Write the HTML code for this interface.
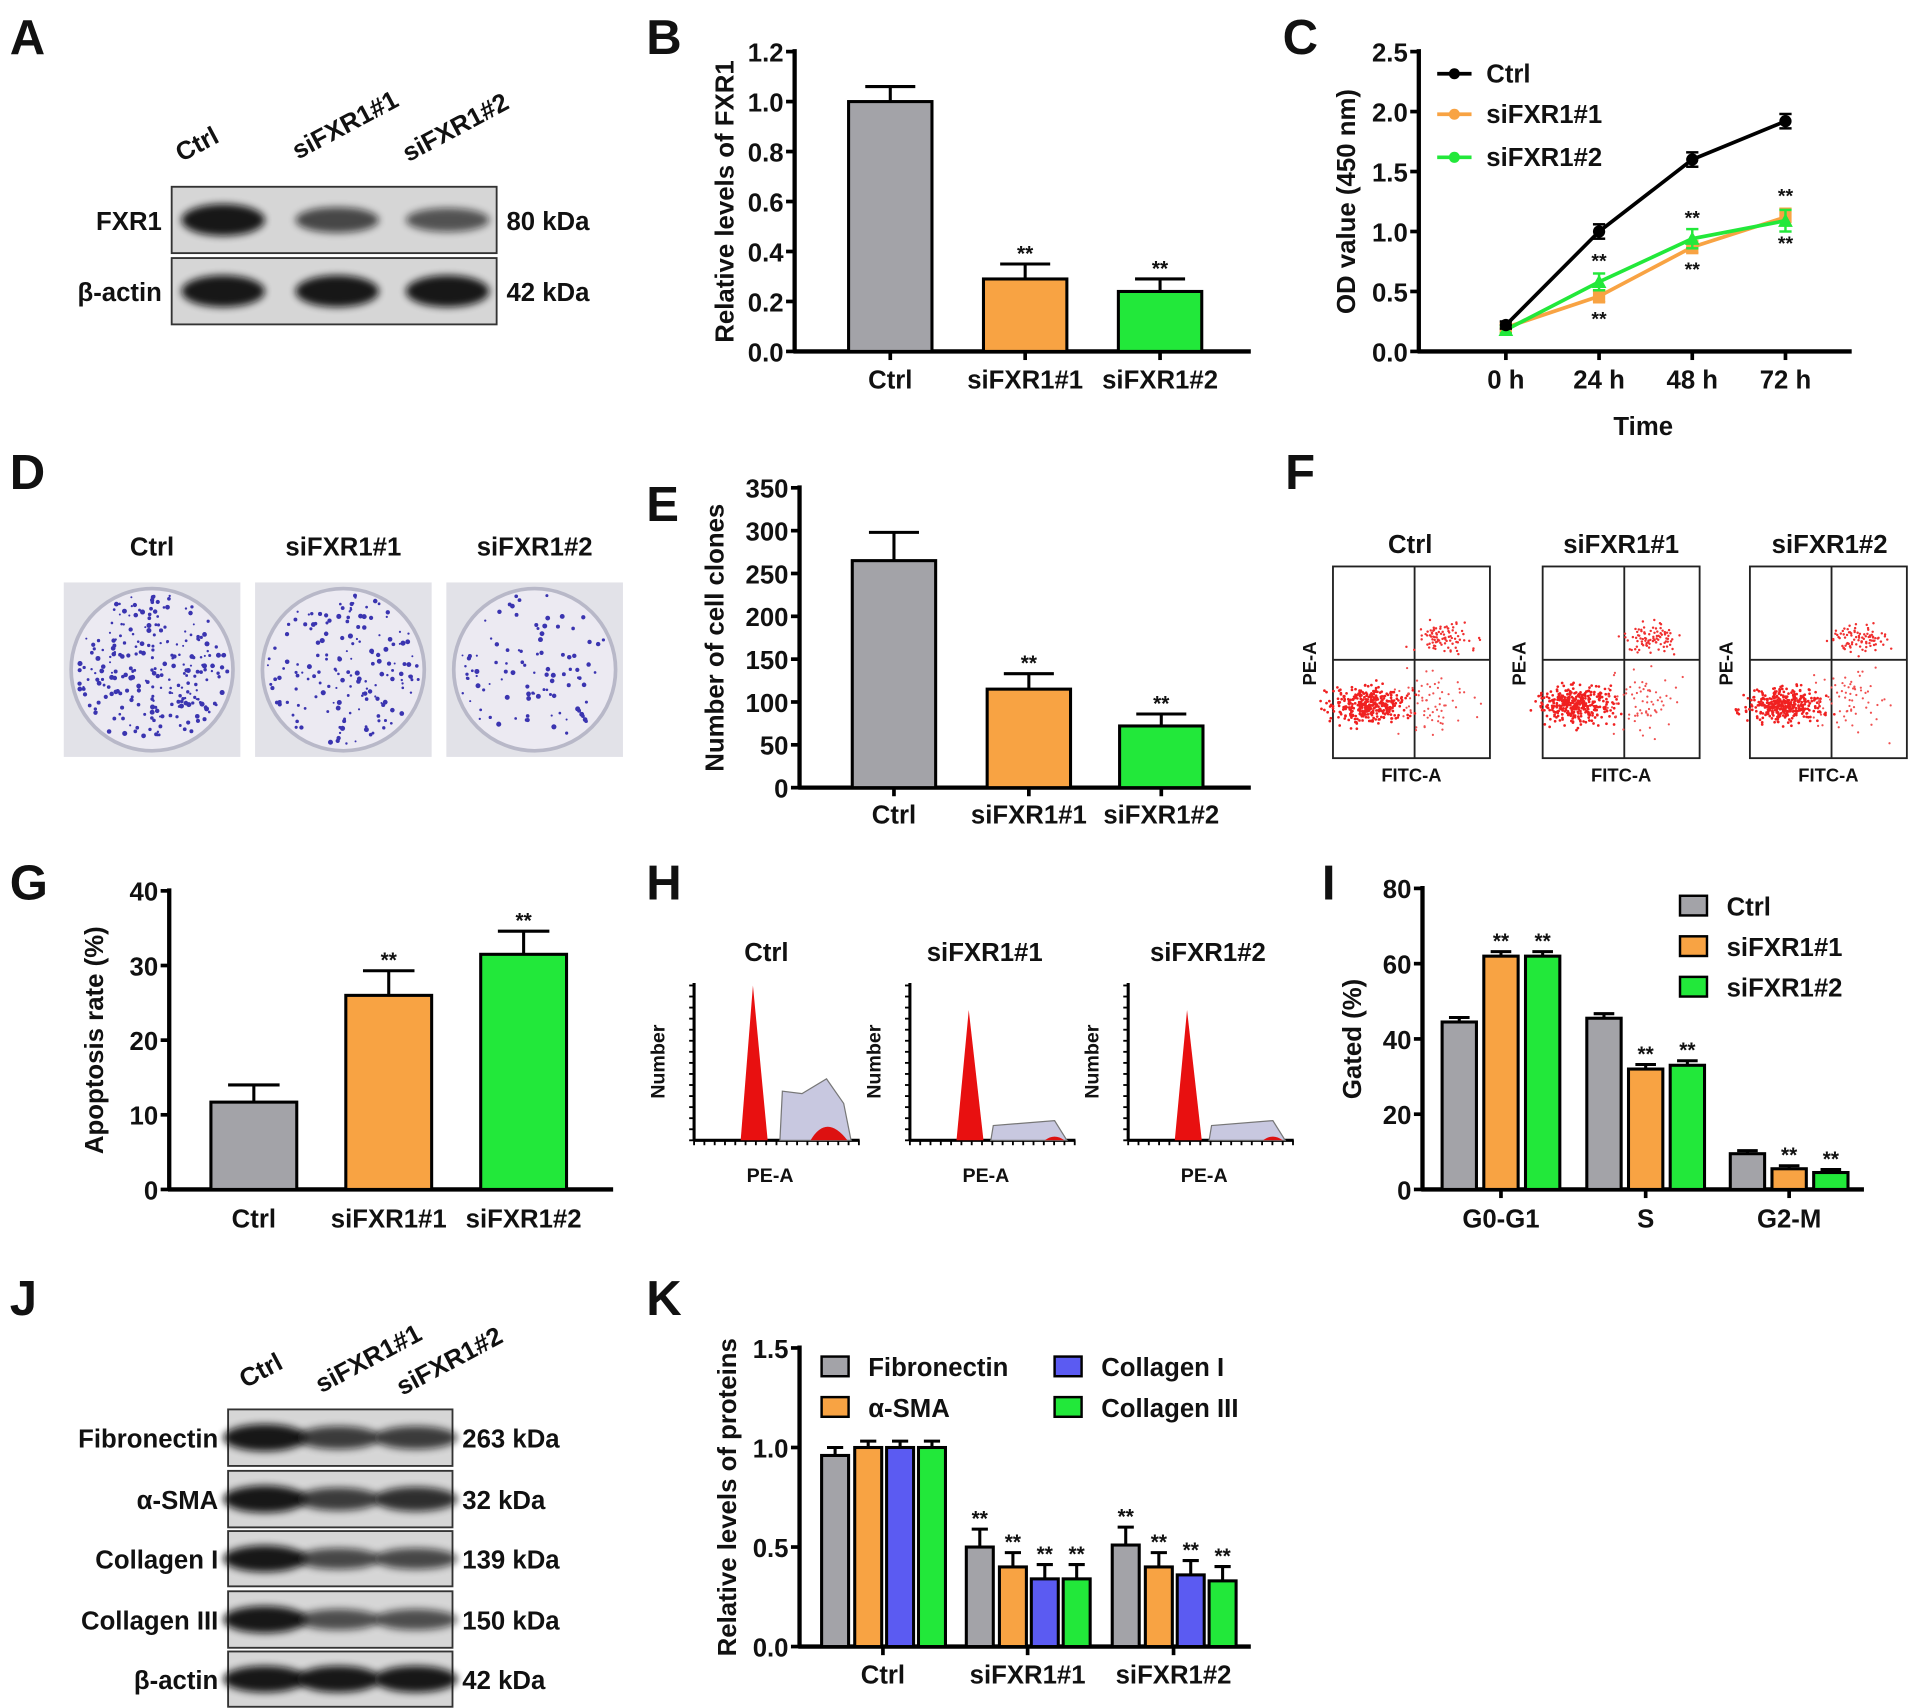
<!DOCTYPE html>
<html><head><meta charset="utf-8"><style>
html,body{margin:0;padding:0;background:#fff;}
svg{display:block;}
text{font-family:"Liberation Sans",sans-serif;font-weight:bold;fill:#111;}
</style></head><body>
<svg id="fig" width="1913" height="1708" viewBox="0 0 1560 1390" preserveAspectRatio="none" xmlns="http://www.w3.org/2000/svg">
<defs>
<filter id="blur" x="-20%" y="-50%" width="140%" height="200%"><feGaussianBlur stdDeviation="3"/></filter>
</defs>
<g id="root"></g>
</svg>
<script>
// ---- data ----
const catsB = ["Ctrl","siFXR1#1","siFXR1#2"];
const valsB = [1.0, 0.29, 0.24];
const errB = [0.06, 0.06, 0.05];
const ticksB = ["0.0","0.2","0.4","0.6","0.8","1.0","1.2"];

const timeC = ["0 h","24 h","48 h","72 h"];
const ctrlC = [0.22, 1.0, 1.6, 1.92];
const si1C = [0.2, 0.46, 0.87, 1.12];
const si2C = [0.18, 0.58, 0.94, 1.09];
const errCtrlC = [0.03, 0.06, 0.06, 0.06];
const errSi1C = [0.03, 0.05, 0.05, 0.07];
const errSi2C = [0.03, 0.07, 0.08, 0.09];
const ticksC = ["0.0","0.5","1.0","1.5","2.0","2.5"];

const valsE = [265, 115, 72];
const errE = [33, 18, 14];
const ticksE = ["0","50","100","150","200","250","300","350"];

const valsG = [11.7, 26, 31.5];
const errG = [2.3, 3.3, 3.1];
const ticksG = ["0","10","20","30","40"];

const phasesI = ["G0-G1","S","G2-M"];
const ctrlI = [44.5, 45.5, 9.5];
const si1I = [62, 32, 5.5];
const si2I = [62, 33, 4.5];
const errI = [1.2, 1.2, 0.8];
const ticksI = ["0","20","40","60","80"];

const proteinsK = ["Fibronectin","α-SMA","Collagen I","Collagen III"];
const groupsK = ["Ctrl","siFXR1#1","siFXR1#2"];
const fibK = [0.96, 0.5, 0.51];
const smaK = [1.0, 0.4, 0.4];
const col1K = [1.0, 0.34, 0.36];
const col3K = [1.0, 0.34, 0.33];
const errK = [0.04, 0.09, 0.09];
const ticksK = ["0.0","0.5","1.0","1.5"];

// ---- helpers ----
const NS="http://www.w3.org/2000/svg";
const root=document.getElementById('root');
function el(tag,attrs,parent,txt){const e=document.createElementNS(NS,tag);for(const k in attrs)e.setAttribute(k,attrs[k]);if(txt!==undefined)e.textContent=txt;(parent||root).appendChild(e);return e;}
const GRAY="#a3a3a8",ORANGE="#f8a343",GREEN="#22e83a",BLUE="#5b5bf2";

function label(t,x,y){const e=el('text',{x:x,y:y,'font-size':40},root,t);

}

function axesY(x0,y0,yTop,xEnd,max,ticks,title,titleX,name){
 const g=el('g',{});
 
 
 el('line',{x1:x0,y1:yTop-2,x2:x0,y2:y0+1,stroke:'#000','stroke-width':3.5},g);
 el('line',{x1:x0-1,y1:y0,x2:xEnd,y2:y0,stroke:'#000','stroke-width':3.5},g);
 const n=ticks.length-1;
 ticks.forEach((t,i)=>{const y=y0-(y0-yTop)*i/n;
  el('line',{x1:x0-7,y1:y,x2:x0,y2:y,stroke:'#000','stroke-width':3},g);
  const tx=el('text',{x:x0-9,y:y+8,'font-size':21,'text-anchor':'end'},g,t);
  
  });
 const cy=(y0+yTop)/2;
 const tt=el('text',{x:titleX,y:cy,'font-size':21,'text-anchor':'middle',transform:`rotate(-90 ${titleX} ${cy})`},root,title);
 
 
 return v=>y0-(y0-yTop)*v/max;
}
function xticks(xs,y0){xs.forEach(x=>el('line',{x1:x,y1:y0,x2:x,y2:y0+7,stroke:'#000','stroke-width':3}));}
function bar(x,w,y0,yv,color,err,name,star){
 const g=el('g',{});
 
 
 const ye=err;
 el('line',{x1:x+w/2,y1:yv,x2:x+w/2,y2:ye,stroke:'#000','stroke-width':2.5},g);
 el('line',{x1:x+w/2-w*0.3,y1:ye,x2:x+w/2+w*0.3,y2:ye,stroke:'#000','stroke-width':2.5},g);
 el('rect',{x:x,y:yv,width:w,height:y0-yv,fill:color,stroke:'#000','stroke-width':2.5},g);
 if(star){el('text',{x:x+w/2,y:ye-3,'font-size':17,'text-anchor':'middle'},g,'**');}
}
function catLabels(cats,xs,y,fs,name){cats.forEach((c,i)=>{const t=el('text',{x:xs[i],y:y,'font-size':fs||21,'text-anchor':'middle'},root,c);
 
 });}

// ---- Panel A: western blot ----
label('A',8,44);
function blot(x,w,rows,labels,kdas,lanes,intens,name){
 rows.forEach((r,i)=>{const g=el('g',{});
  
  
  el('rect',{x:x,y:r[0],width:w,height:r[1]-r[0],fill:'#d6d6d6',stroke:'#333','stroke-width':1.5},g);
  lanes.forEach((lx,j)=>{const k=intens[i][j];
   el('ellipse',{cx:lx,cy:(r[0]+r[1])/2,rx:34,ry:(r[1]-r[0])*0.2*(0.6+0.6*k),fill:'#111',opacity:0.35+0.6*k,filter:'url(#blur)'},g);});
  el('text',{x:x-8,y:(r[0]+r[1])/2+8,'font-size':21,'text-anchor':'end'},g,labels[i]);
  el('text',{x:x+w+8,y:(r[0]+r[1])/2+8,'font-size':21},g,kdas[i]);
 });
}
blot(140,265,[[152,206],[210,264]],['FXR1','β-actin'],['80 kDa','42 kDa'],[182,275,365],[[1,0.6,0.5],[1,1,1]],'blot-a');
[['Ctrl',148,132],['siFXR1#1',243,130],['siFXR1#2',333,132]].forEach(a=>{const t=el('text',{x:a[1],y:a[2],'font-size':21,transform:`rotate(-28 ${a[1]} ${a[2]})`},root,a[0]);
 
 });

// ---- Panel B ----
label('B',527,44);
{const y0=286,yt=42;const sy=axesY(648,y0,yt,1020,1.2,ticksB,'Relative levels of FXR1',598,'chart-b');
 const xs=[692,802,912],cols=[GRAY,ORANGE,GREEN];
 xticks(xs.map(x=>x+34),y0);
 valsB.forEach((v,i)=>bar(xs[i],68,y0,sy(v),cols[i],sy(v+errB[i]),'bar-b-'+i,i>0));
 catLabels(catsB,xs.map(x=>x+34),316,21,'chart-b');}

// ---- Panel C: line chart ----
label('C',1046,44);
{const y0=286,yt=42;const sy=axesY(1157,y0,yt,1510,2.5,ticksC,'OD value (450 nm)',1105,'chart-c');
 const xs=[1228,1304,1380,1456];
 xticks(xs,y0);
 catLabels(timeC,xs,316,21,'chart-c');
 const tt=el('text',{x:1340,y:354,'font-size':21,'text-anchor':'middle'},root,'Time');
 
 
 const series=[[si1C,errSi1C,ORANGE,'siFXR1#1','sq'],[si2C,errSi2C,GREEN,'siFXR1#2','tri'],[ctrlC,errCtrlC,'#000','Ctrl','dot']];
 series.forEach(s=>{const g=el('g',{});
  
  
  el('polyline',{points:s[0].map((v,i)=>xs[i]+','+sy(v)).join(' '),fill:'none',stroke:s[2],'stroke-width':3},g);
  s[0].forEach((v,i)=>{const x=xs[i],y=sy(v),e1=sy(v+s[1][i]),e2=sy(v-s[1][i]);
   el('line',{x1:x,y1:e1,x2:x,y2:e2,stroke:s[2],'stroke-width':2},g);
   el('line',{x1:x-5,y1:e1,x2:x+5,y2:e1,stroke:s[2],'stroke-width':2},g);
   el('line',{x1:x-5,y1:e2,x2:x+5,y2:e2,stroke:s[2],'stroke-width':2},g);
   if(s[4]=='dot')el('circle',{cx:x,cy:y,r:5,fill:s[2]},g);
   else if(s[4]=='sq')el('rect',{x:x-5,y:y-5,width:10,height:10,fill:s[2]},g);
   else el('polygon',{points:`${x},${y-6} ${x-6},${y+5} ${x+6},${y+5}`,fill:s[2]},g);});});
 [1,2,3].forEach(i=>{el('text',{x:xs[i],y:sy(Math.max(si1C[i],si2C[i])+0.12),'font-size':16,'text-anchor':'middle'},root,'**');
  el('text',{x:xs[i],y:sy(Math.min(si1C[i],si2C[i])-0.12)+12,'font-size':16,'text-anchor':'middle'},root,'**');});
 const leg=[['Ctrl','#000',60],['siFXR1#1',ORANGE,93],['siFXR1#2',GREEN,128]];
 leg.forEach(l=>{const g=el('g',{});
  
  
  el('line',{x1:1172,y1:l[2],x2:1200,y2:l[2],stroke:l[1],'stroke-width':3},g);
  el('circle',{cx:1186,cy:l[2],r:4.5,fill:l[1]},g);
  el('text',{x:1212,y:l[2]+7,'font-size':21},g,l[0]);});}

// ---- Panel D: colonies ----
label('D',8,398);
catLabels(['Ctrl','siFXR1#1','siFXR1#2'],[124,280,436],452,21,'panel-d');
{let seed=7;function rnd(){seed=(seed*9301+49297)%233280;return seed/233280;}
 [[52,260],[208,170],[364,100]].forEach((p,k)=>{const g=el('g',{});
  
  
  el('rect',{x:p[0],y:474,width:144,height:142,fill:'#e2e2e8'},g);
  const cx=p[0]+72,cy=545;
  el('circle',{cx:cx,cy:cy,r:66,fill:'#eceaf2',stroke:'#b8b8c8','stroke-width':3},g);
  for(let i=0;i<p[1];i++){const a=rnd()*6.283,r=62*Math.sqrt(rnd());
   el('circle',{cx:cx+r*Math.cos(a),cy:cy+r*Math.sin(a),r:0.8+rnd()*1.3,fill:'#3a34b0'},g);}});}

// ---- Panel E ----
label('E',527,424);
{const y0=641,yt=397;const sy=axesY(652,y0,yt,1020,350,ticksE,'Number of cell clones',590,'chart-e');
 const xs=[695,805,913],cols=[GRAY,ORANGE,GREEN];
 xticks(xs.map(x=>x+34),y0);
 valsE.forEach((v,i)=>bar(xs[i],68,y0,sy(v),cols[i],sy(v+errE[i]),'bar-e-'+i,i>0));
 catLabels(catsB,xs.map(x=>x+34),670,21,'chart-e');}

// ---- Panel F: flow ----
label('F',1048,398);
{let seed=3;function rnd(){seed=(seed*9301+49297)%233280;return seed/233280;}
 function gauss(){return (rnd()+rnd()+rnd()-1.5);}
 [[1087,'Ctrl',1150],[1258,'siFXR1#1',1322],[1427,'siFXR1#2',1492]].forEach((p,k)=>{const g=el('g',{});
  
  
  el('text',{x:p[2],y:450,'font-size':21,'text-anchor':'middle'},g,p[1]);
  const x=p[0],w=128;
  el('rect',{x:x,y:461,width:w,height:156,fill:'#fff',stroke:'#222','stroke-width':1.5},g);
  el('line',{x1:x+w*0.52,y1:461,x2:x+w*0.52,y2:617,stroke:'#222','stroke-width':1.5},g);
  el('line',{x1:x,y1:537,x2:x+w,y2:537,stroke:'#222','stroke-width':1.5},g);
  for(let i=0;i<350;i++)el('circle',{cx:x+28+gauss()*30,cy:574+gauss()*14,r:1.1,fill:'#f02020'},g);
  for(let i=0;i<90;i++)el('circle',{cx:x+w*0.7+gauss()*22,cy:520+gauss()*12,r:1,fill:'#f03030'},g);
  for(let i=0;i<70;i++)el('circle',{cx:x+w*0.62+gauss()*30,cy:570+gauss()*25,r:0.9,fill:'#f05050'},g);
  el('text',{x:x-14,y:540,'font-size':15,'text-anchor':'middle',transform:`rotate(-90 ${x-14} 540)`,'font-weight':'normal'},g,'PE-A');
  el('text',{x:x+w/2,y:636,'font-size':15,'text-anchor':'middle','font-weight':'normal'},g,'FITC-A');
 });}

// ---- Panel G ----
label('G',8,732);
{const y0=968,yt=725;const sy=axesY(138,y0,yt,500,40,ticksG,'Apoptosis rate (%)',84,'chart-g');
 const xs=[172,282,392],cols=[GRAY,ORANGE,GREEN];
 valsG.forEach((v,i)=>bar(xs[i],70,y0,sy(v),cols[i],sy(v+errG[i]),'bar-g-'+i,i>0));
 catLabels(catsB,xs.map(x=>x+35),999,21,'chart-g');}

// ---- Panel H: cell cycle histograms ----
label('H',527,732);
[[566,'Ctrl',625,1],[742,'siFXR1#1',803,0],[920,'siFXR1#2',985,0]].forEach((p,k)=>{const g=el('g',{});
 
 
 el('text',{x:p[2],y:782,'font-size':21,'text-anchor':'middle'},g,p[1]);
 const x=p[0],yb=928;
 el('line',{x1:x,y1:800,x2:x,y2:yb,stroke:'#000','stroke-width':2.5},g);
 el('line',{x1:x,y1:yb,x2:x+135,y2:yb,stroke:'#000','stroke-width':2.5},g);
 for(let i=0;i<=16;i++)el('line',{x1:x+i*8.4,y1:yb,x2:x+i*8.4,y2:yb+4,stroke:'#000','stroke-width':1.5},g);
 for(let i=0;i<=14;i++)el('line',{x1:x-4,y1:yb-i*9,x2:x,y2:yb-i*9,stroke:'#000','stroke-width':1.5},g);
 const px=x+48;
 if(p[3]){el('path',{d:`M${x+70},${yb} L${x+72},${yb-40} L${x+88},${yb-38} L${x+108},${yb-50} L${x+122},${yb-30} L${x+128},${yb} Z`,fill:'#c8c8e0',stroke:'#777','stroke-width':1},g);
  el('path',{d:`M${x+95},${yb} Q${x+108},${yb-22} ${x+125},${yb} Z`,fill:'#dd1111'},g);}
 else{el('path',{d:`M${x+66},${yb} L${x+68},${yb-12} L${x+118},${yb-16} L${x+128},${yb} Z`,fill:'#c8c8e0',stroke:'#777','stroke-width':1},g);
  el('path',{d:`M${x+110},${yb} Q${x+118},${yb-6} ${x+126},${yb} Z`,fill:'#dd1111'},g);}
 el('path',{d:`M${px-10},${yb} L${px},${p[3]?802:822} L${px+12},${yb} Z`,fill:'#e81010'},g);
 el('text',{x:x-24,y:864,'font-size':16,'text-anchor':'middle',transform:`rotate(-90 ${x-24} 864)`,'font-weight':'normal'},g,'Number');
 el('text',{x:x+62,y:962,'font-size':16,'text-anchor':'middle','font-weight':'normal'},g,'PE-A');});

// ---- Panel I ----
label('I',1078,732);
{const y0=968,yt=723;const sy=axesY(1160,y0,yt,1520,80,ticksI,'Gated (%)',1110,'chart-i');
 const gx=[1176,1294,1411],cols=[GRAY,ORANGE,GREEN],sers=[ctrlI,si1I,si2I],off=[0,34,68];
 xticks(gx.map(x=>x+48),y0);
 phasesI.forEach((ph,j)=>sers.forEach((s,i)=>bar(gx[j]+off[i],28,y0,sy(s[j]),cols[i],sy(s[j]+errI[j]),'bar-i-'+ph+'-'+i,i>0)));
 catLabels(phasesI,gx.map(x=>x+48),999,21,'chart-i');
 [['Ctrl',GRAY,738],['siFXR1#1',ORANGE,771],['siFXR1#2',GREEN,804]].forEach(l=>{const g=el('g',{});
  
  
  el('rect',{x:1370,y:l[2]-9,width:22,height:16,fill:l[1],stroke:'#000','stroke-width':2},g);
  el('text',{x:1408,y:l[2]+7,'font-size':21},g,l[0]);});}

// ---- Panel J: blot ----
label('J',8,1070);
blot(186,183,[[1147,1193],[1197,1243],[1246,1291],[1295,1341],[1344,1389]],['Fibronectin','α-SMA','Collagen I','Collagen III','β-actin'],['263 kDa','32 kDa','139 kDa','150 kDa','42 kDa'],[216,276,339],[[1,0.7,0.7],[1,0.7,0.8],[1,0.6,0.6],[1,0.55,0.55],[1,1,1]],'blot-j');
[['Ctrl',200,1130],['siFXR1#1',262,1134],['siFXR1#2',328,1136]].forEach(a=>{const t=el('text',{x:a[1],y:a[2],'font-size':21,transform:`rotate(-28 ${a[1]} ${a[2]})`},root,a[0]);
 
 });

// ---- Panel K ----
label('K',527,1070);
{const y0=1340,yt=1097;const sy=axesY(652,y0,yt,1020,1.5,ticksK,'Relative levels of proteins',600,'chart-k');
 const gx=[670,788,907],cols=[GRAY,ORANGE,BLUE,GREEN],sers=[fibK,smaK,col1K,col3K],off=[0,27,53,79];
 xticks(gx.map(x=>x+50),y0);
 groupsK.forEach((gname,j)=>sers.forEach((s,i)=>bar(gx[j]+off[i],22,y0,sy(s[j]),cols[i],sy(s[j]+errK[j]*(i==0?1:0.8)),'bar-k-'+gname+'-'+i,j>0)));
 catLabels(groupsK,gx.map(x=>x+50),1370,21,'chart-k');
 [[proteinsK[0],GRAY,670,1113],[proteinsK[1],ORANGE,670,1146],[proteinsK[2],BLUE,860,1113],[proteinsK[3],GREEN,860,1146]].forEach(l=>{const g=el('g',{});
  
  
  el('rect',{x:l[2],y:l[3]-9,width:22,height:16,fill:l[1],stroke:'#000','stroke-width':2},g);
  el('text',{x:l[2]+38,y:l[3]+7,'font-size':21},g,l[0]);});}
</script>
</body></html>
